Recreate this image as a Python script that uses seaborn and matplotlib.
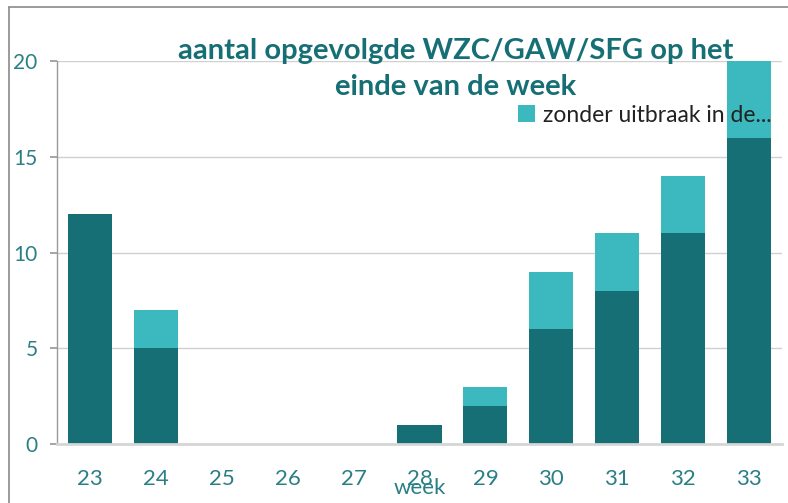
import matplotlib
matplotlib.use("Agg")
import matplotlib.pyplot as plt
import seaborn as sns
import pandas as pd
from matplotlib.patches import Rectangle
from matplotlib.lines import Line2D

weeks = ["23", "24", "25", "26", "27", "28", "29", "30", "31", "32", "33"]
met_uitbraak = [12, 5, 0, 0, 0, 1, 2, 6, 8, 11, 16]
zonder_uitbraak = [0, 2, 0, 0, 0, 0, 1, 3, 3, 3, 4]
title = "aantal opgevolgde WZC/GAW/SFG op het\neinde van de week"
legend_label = "zonder uitbraak in de..."

dark = "#166f75"
light = "#3bb9be"
teal_text = "#2a7f85"

sns.set_theme(style="white")
plt.rcParams["font.family"] = ["Lato", "DejaVu Sans"]

df = pd.DataFrame({
    "week": weeks,
    "met": met_uitbraak,
    "zonder": zonder_uitbraak,
})
df["totaal"] = df["met"] + df["zonder"]

fig = plt.figure(figsize=(7.88, 5.03), dpi=100)
ax = fig.add_axes([0.0723, 0.1173, 0.9201, 0.7614])

sns.barplot(data=df, x="week", y="totaal", order=weeks, color=light,
            saturation=1, width=0.67, ax=ax, linewidth=0)
sns.barplot(data=df, x="week", y="met", order=weeks, color=dark,
            saturation=1, width=0.67, ax=ax, linewidth=0)

ax.set_xlim(-0.5, 10.5)
ax.set_ylim(0, 20)
ax.set_yticks([0, 5, 10, 15, 20])
ax.yaxis.grid(True, color="#d0d0d0", linewidth=1)
ax.set_axisbelow(True)
for s in ["top", "right"]:
    ax.spines[s].set_visible(False)
ax.spines["left"].set_color("#9a9a9a")
ax.spines["left"].set_linewidth(1)
ax.spines["bottom"].set_color("#d6d6d6")
ax.spines["bottom"].set_linewidth(2)

ax.tick_params(axis="y", left=True, length=5, color="#9a9a9a", labelsize=15,
               labelcolor=teal_text, pad=9)
ax.tick_params(axis="x", bottom=False, labelsize=16, labelcolor=teal_text, pad=12)
ax.set_ylabel("")
ax.set_xlabel("week", fontsize=16, color=teal_text, labelpad=-8)

fig.text(0.578, 0.925, title, ha="center", va="top", fontsize=21,
         fontweight="bold", color=dark, linespacing=1.5)

handle = Rectangle((0, 0), 1, 1, facecolor=light, edgecolor="none")
leg = fig.legend([handle], [legend_label], loc="center left",
                 bbox_to_anchor=(0.657, 0.771), frameon=False, fontsize=16.5,
                 handlelength=0.75, handleheight=0.75, handletextpad=0.35,
                 borderpad=0, borderaxespad=0)
for t in leg.get_texts():
    t.set_color("#222222")

# outer frame (left and top edges visible)
fig.add_artist(Line2D([0.0115, 0.0115], [0.0, 0.986], color="#8a8a8a",
                      linewidth=1.2, transform=fig.transFigure))
fig.add_artist(Line2D([0.0115, 1.0], [0.986, 0.986], color="#8a8a8a",
                      linewidth=1.2, transform=fig.transFigure))

fig.savefig("out.png", dpi=100)
